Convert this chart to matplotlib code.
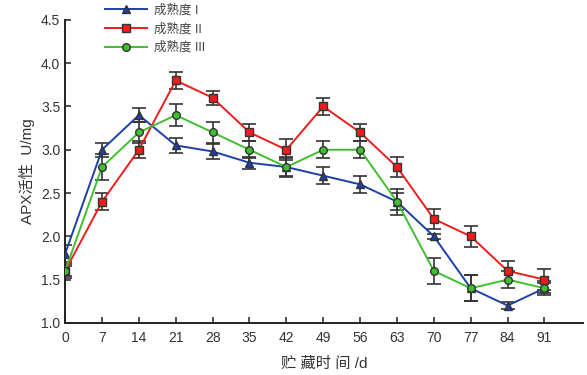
import matplotlib.pyplot as plt
from matplotlib.lines import Line2D

plt.rcParams['font.family'] = ['Liberation Sans', 'Noto Sans CJK SC', 'DejaVu Sans']

# storage days
days = [0, 7, 14, 21, 28, 35, 42, 49, 56, 63, 70, 77, 84, 91]

# APX activity by maturity level
apx_1 = [1.80, 3.00, 3.40, 3.05, 2.98, 2.85, 2.80, 2.70, 2.60, 2.40, 2.00, 1.40, 1.20, 1.40]
err_1 = [0.10, 0.08, 0.08, 0.09, 0.09, 0.07, 0.10, 0.10, 0.10, 0.10, 0.03, 0.15, 0.04, 0.06]
apx_2 = [1.60, 2.40, 3.00, 3.80, 3.60, 3.20, 3.00, 3.50, 3.20, 2.80, 2.20, 2.00, 1.60, 1.50]
err_2 = [0.08, 0.10, 0.10, 0.10, 0.08, 0.10, 0.12, 0.10, 0.10, 0.12, 0.12, 0.12, 0.12, 0.12]
apx_3 = [1.60, 2.80, 3.20, 3.40, 3.20, 3.00, 2.80, 3.00, 3.00, 2.40, 1.60, 1.40, 1.50, 1.40]
err_3 = [0.06, 0.15, 0.12, 0.13, 0.12, 0.10, 0.12, 0.10, 0.10, 0.15, 0.15, 0.15, 0.10, 0.08]

labels = ['成熟度 I', '成熟度 II', '成熟度 III']
colors = ['#1f3fa8', '#ee1c1c', '#3fbf2f']
markers = ['^', 's', 'o']

fig = plt.figure(figsize=(5.87, 3.75), dpi=100)
ax = fig.add_axes([0.111, 0.139, 0.882, 0.808])

handles = []
for y, e, c, m, lab in zip([apx_1, apx_2, apx_3], [err_1, err_2, err_3], colors, markers, labels):
    ax.errorbar(days, y, yerr=e, fmt='none', ecolor='#333333', elinewidth=1.2,
                capsize=5, capthick=1.2, zorder=2)
    ax.plot(days, y, color=c, lw=1.4, marker=m, markersize=5.5,
            markerfacecolor=c, markeredgecolor='#333333', markeredgewidth=1.0, zorder=3)
    handles.append(Line2D([], [], color=c, lw=1.4, marker=m, markersize=5.5,
                          markerfacecolor=c, markeredgecolor='#333333', markeredgewidth=1.0))

ax.set_xlim(0, 98.3)
ax.set_ylim(1.0, 4.5)
ax.set_xticks(days)
ax.set_yticks([1.0, 1.5, 2.0, 2.5, 3.0, 3.5, 4.0, 4.5])
ax.set_yticklabels(['1.0', '1.5', '2.0', '2.5', '3.0', '3.5', '4.0', '4.5'])
ax.tick_params(direction='in', length=4, width=1.2, labelsize=10, colors='#333333')
ax.tick_params(axis='x', pad=6)
for side in ['top', 'right']:
    ax.spines[side].set_visible(False)
for side in ['left', 'bottom']:
    ax.spines[side].set_linewidth(1.4)
    ax.spines[side].set_color('#222222')

ax.set_xlabel('贮 藏时 间 /d', fontsize=11, color='#333333', labelpad=8)
ax.set_ylabel('APX活性  U/mg', fontsize=11, color='#333333', labelpad=4)

fig.legend(handles, labels, loc='upper left', bbox_to_anchor=(0.168, 1.005),
           frameon=False, fontsize=9, handlelength=3.4, labelspacing=0.5,
           handletextpad=0.5, borderaxespad=0.1, labelcolor='#444444')

fig.savefig('out.png', dpi=100)
